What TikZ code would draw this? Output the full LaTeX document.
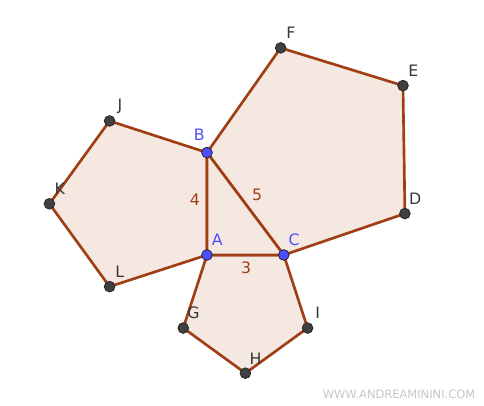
\documentclass[tikz,border=0pt]{standalone}
\usepackage{fontspec}
\setmainfont{DejaVu Sans}
\usetikzlibrary{calc}
\definecolor{edgebrown}{RGB}{160,62,22}
\definecolor{fillpeach}{RGB}{244,232,225}
\definecolor{ptgray}{RGB}{64,64,64}
\definecolor{ptblue}{RGB}{77,77,255}
\definecolor{lbldark}{RGB}{55,55,55}
\begin{document}
\begin{tikzpicture}[x=19.2pt, y=19.2pt,
        side/.style={draw=edgebrown, line width=2pt, fill=fillpeach, line join=round},
        dot/.style={circle, draw=black!85, fill=ptgray, line width=0.6pt, inner sep=0pt, minimum size=8pt},
        bluedot/.style={dot, fill=ptblue},
        lbl/.style={font=\fontsize{11.8}{14}\selectfont, text=lbldark, inner sep=0pt},
        bluelbl/.style={lbl, text=ptblue},
        len/.style={lbl, text=edgebrown},
        wmark/.style={font=\fontsize{8.6}{10}\selectfont, text=black!22, inner sep=0pt}
    ]
    \useasboundingbox (-8.086,-5.898) rectangle (10.82,9.96);
    % triangle
    \coordinate (A) at (0,0);
    \coordinate (B) at (0,4);
    \coordinate (C) at (3,0);
    % pentagon on BC
    \coordinate (D) at ($(C)!1!-108:(B)$);
    \coordinate (E) at ($(D)!1!-108:(C)$);
    \coordinate (F) at ($(E)!1!-108:(D)$);
    % pentagon on AB
    \coordinate (J) at ($(B)!1!-108:(A)$);
    \coordinate (K) at ($(J)!1!-108:(B)$);
    \coordinate (L) at ($(K)!1!-108:(J)$);
    % pentagon on AC
    \coordinate (G) at ($(A)!1!-108:(C)$);
    \coordinate (H) at ($(G)!1!-108:(A)$);
    \coordinate (I) at ($(H)!1!-108:(G)$);

    \draw[side] (B) -- (C) -- (D) -- (E) -- (F) -- cycle;
    \draw[side] (A) -- (B) -- (J) -- (K) -- (L) -- cycle;
    \draw[side] (C) -- (A) -- (G) -- (H) -- (I) -- cycle;
    \draw[side] (A) -- (B) -- (C) -- cycle;

    % side lengths
    \node[len] (lenAB) at (-0.47,2.16) {4};
    \node[len] (lenBC) at (1.96,2.35) {5};
    \node[len] (lenAC) at (1.53,-0.51) {3};

    % points
    \foreach \p in {D,E,F,G,H,I,J,K,L} {
        \node[dot] (dot\p) at (\p) {};
        \node[lbl] (lbl\p) at ($(\p)+(0.4,0.58)$) {\p};
    }
    \foreach \p in {A,C} {
        \node[bluedot] (dot\p) at (\p) {};
        \node[bluelbl] (lbl\p) at ($(\p)+(0.4,0.6)$) {\p};
    }
    \node[bluedot] (dotB) at (B) {};
    \node[bluelbl] (lblB) at ($(B)+(-0.3,0.7)$) {B};

    \node[wmark] (wm) at (7.5,-5.43) {WWW.ANDREAMININI.COM};
\end{tikzpicture}
\end{document}
